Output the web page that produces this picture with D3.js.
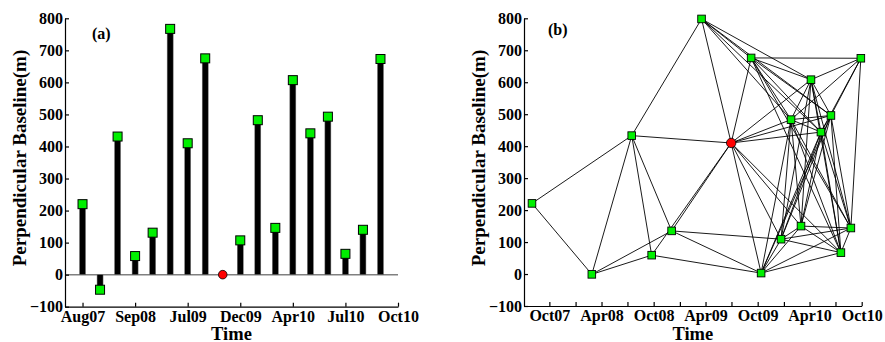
<!DOCTYPE html>
<html>
<head>
<meta charset="utf-8">
<script src="https://cdn.jsdelivr.net/npm/d3@7"></script>
<style>
  body { margin: 0; background: #fff; }
  svg { display: block; }
  .axis text { font-family: "Liberation Serif", "Times New Roman", serif; font-weight: bold; font-size: 16px; fill: #000; }
  .axis path, .axis line { stroke: #000; stroke-width: 1.2; }
  .title { font-family: "Liberation Serif", "Times New Roman", serif; font-weight: bold; font-size: 19px; }
  .xtitle { font-size: 18.5px; }
  .tag { font-family: "Liberation Serif", "Times New Roman", serif; font-weight: bold; font-size: 16px; }
</style>
</head>
<body>
<svg id="chart" width="885" height="342"></svg>
<script>
// panel (a): baseline per acquisition, in acquisition order
const barValues = [220, -47, 431, 58, 131, 767, 410, 675, 0, 107, 482, 146, 607, 441, 493, 65, 140, 673];
const barMaster = 8;
const barTickIdx = [0, 3, 6, 9, 12, 15, 18];
const barTickLabels = ['Aug07', 'Sep08', 'Jul09', 'Dec09', 'Apr10', 'Jul10', 'Oct10'];

// panel (b): acquisition dates vs baseline, plus the interferogram pairs
const netDates = ['2007-08-01', '2008-02-27', '2008-07-16', '2008-09-24', '2008-12-03', '2009-03-18',
  '2009-06-30', '2009-09-08', '2009-10-13', '2009-12-22', '2010-01-26', '2010-03-02',
  '2010-04-06', '2010-05-11', '2010-06-15', '2010-07-20', '2010-08-24', '2010-09-28'];
const netValues = [221, -1, 433, 59, 135, 798, 410, 676, 3, 109, 483, 150, 608, 444, 496, 67, 144, 675];
const netMaster = 6;
const netPairs = [
  [1, 2], [1, 3], [2, 3], [2, 4], [2, 5], [3, 4], [3, 5], [3, 6], [3, 7], [4, 7], [5, 7], [4, 9], [5, 9], [5, 10],
  [6, 7], [6, 8], [6, 11], [6, 13], [6, 14], [6, 15],
  [7, 8], [7, 9], [7, 10], [7, 11], [7, 12], [7, 13], [7, 14], [7, 15], [7, 16],
  [8, 11], [8, 13], [8, 14], [8, 15], [8, 16], [8, 17], [8, 18],
  [9, 10], [9, 11], [9, 12], [9, 14], [9, 15], [9, 16], [9, 17],
  [10, 11], [10, 12], [10, 13], [10, 14], [10, 15], [10, 16], [10, 17],
  [11, 12], [11, 13], [11, 14], [11, 15], [11, 16], [11, 17], [11, 18],
  [12, 13], [12, 14], [12, 15], [12, 16], [12, 17],
  [13, 14], [13, 15], [13, 16], [13, 17], [13, 18],
  [14, 15], [14, 16], [14, 17], [14, 18],
  [15, 16], [15, 17], [15, 18],
  [16, 17], [17, 18]
];
const yTicks = [-100, 0, 100, 200, 300, 400, 500, 600, 700, 800];

const green = '#00f000';
const svg = d3.select('#chart');

// ---------- panel (a) ----------
const xA = d3.scaleLinear().domain([-1, 18]).range([65, 398]);
const yA = d3.scaleLinear().domain([-100, 800]).range([306.7, 18.3]);
const gA = svg.append('g');

gA.append('line')
  .attr('x1', xA(-1)).attr('x2', xA(18))
  .attr('y1', yA(0)).attr('y2', yA(0))
  .attr('stroke', '#808080').attr('stroke-width', 1.5);

gA.selectAll('rect.bar').data(barValues.map((v, i) => ({ v, i })).filter(d => d.i !== barMaster))
  .enter().append('rect').attr('class', 'bar')
  .attr('x', d => xA(d.i) - 3)
  .attr('width', 6)
  .attr('y', d => Math.min(yA(d.v), yA(0)))
  .attr('height', d => Math.abs(yA(d.v) - yA(0)))
  .attr('fill', '#000').attr('stroke', '#777').attr('stroke-width', 0.5);

gA.selectAll('rect.mk').data(barValues.map((v, i) => ({ v, i })).filter(d => d.i !== barMaster))
  .enter().append('rect').attr('class', 'mk')
  .attr('x', d => xA(d.i) - 4.5).attr('y', d => yA(d.v) - 4.5)
  .attr('width', 9).attr('height', 9)
  .attr('fill', green).attr('stroke', '#000').attr('stroke-width', 1);

gA.append('circle')
  .attr('cx', xA(barMaster)).attr('cy', yA(barValues[barMaster])).attr('r', 4.3)
  .attr('fill', '#ff0000').attr('stroke', '#000').attr('stroke-width', 0.8);

gA.append('g').attr('class', 'axis')
  .attr('transform', 'translate(' + xA(-1) + ',0)')
  .call(d3.axisLeft(yA).tickValues(yTicks).tickSizeInner(-4).tickSizeOuter(0).tickPadding(2));
gA.append('g').attr('class', 'axis')
  .attr('transform', 'translate(0,' + yA(-100) + ')')
  .call(d3.axisBottom(xA).tickValues(barTickIdx).tickFormat((d, i) => barTickLabels[i])
    .tickSizeInner(-4).tickSizeOuter(0).tickPadding(4));

gA.append('text').attr('class', 'title xtitle').attr('text-anchor', 'middle')
  .attr('x', (xA(-1) + xA(18)) / 2).attr('y', 340).text('Time');
gA.append('text').attr('class', 'title').attr('text-anchor', 'middle')
  .attr('transform', 'translate(26,158) rotate(-90)').text('Perpendicular Baseline(m)');
gA.append('text').attr('class', 'tag').attr('x', 92).attr('y', 38.5).text('(a)');

// ---------- panel (b) ----------
const parse = d3.timeParse('%Y-%m-%d');
const nodes = netDates.map((d, i) => ({ t: parse(d), v: netValues[i], i }));
const xB = d3.scaleTime().domain([new Date(2007, 6, 4), new Date(2010, 9, 1)]).range([524, 861.7]);
const yB = d3.scaleLinear().domain([-100, 800]).range([306, 18.3]);
const gB = svg.append('g');

gB.selectAll('line.pair').data(netPairs).enter().append('line').attr('class', 'pair')
  .attr('x1', p => xB(nodes[p[0] - 1].t)).attr('y1', p => yB(nodes[p[0] - 1].v))
  .attr('x2', p => xB(nodes[p[1] - 1].t)).attr('y2', p => yB(nodes[p[1] - 1].v))
  .attr('stroke', '#000').attr('stroke-width', 0.9);

gB.selectAll('rect.mk').data(nodes.filter(d => d.i !== netMaster)).enter().append('rect').attr('class', 'mk')
  .attr('x', d => xB(d.t) - 3.8).attr('y', d => yB(d.v) - 3.8)
  .attr('width', 7.6).attr('height', 7.6)
  .attr('fill', green).attr('stroke', '#000').attr('stroke-width', 0.9);

gB.append('circle')
  .attr('cx', xB(nodes[netMaster].t)).attr('cy', yB(nodes[netMaster].v)).attr('r', 4.7)
  .attr('fill', '#ff0000').attr('stroke', '#000').attr('stroke-width', 0.8);

const fmt = d3.timeFormat('%b%y');
gB.append('g').attr('class', 'axis')
  .attr('transform', 'translate(' + xB.range()[0] + ',0)')
  .call(d3.axisLeft(yB).tickValues(yTicks).tickSizeInner(-4).tickSizeOuter(0).tickPadding(2));
gB.append('g').attr('class', 'axis')
  .attr('transform', 'translate(0,' + yB(-100) + ')')
  .call(d3.axisBottom(xB).ticks(d3.timeMonth.every(3))
    .tickFormat(d => (d.getMonth() === 3 || d.getMonth() === 9) ? fmt(d) : '')
    .tickSizeInner(-4).tickSizeOuter(0).tickPadding(4));

gB.append('text').attr('class', 'title xtitle').attr('text-anchor', 'middle')
  .attr('x', (xB.range()[0] + xB.range()[1]) / 2).attr('y', 340).text('Time');
gB.append('text').attr('class', 'title').attr('text-anchor', 'middle')
  .attr('transform', 'translate(485,158) rotate(-90)').text('Perpendicular Baseline(m)');
gB.append('text').attr('class', 'tag').attr('x', 548).attr('y', 34.5).text('(b)');
</script>
</body>
</html>
